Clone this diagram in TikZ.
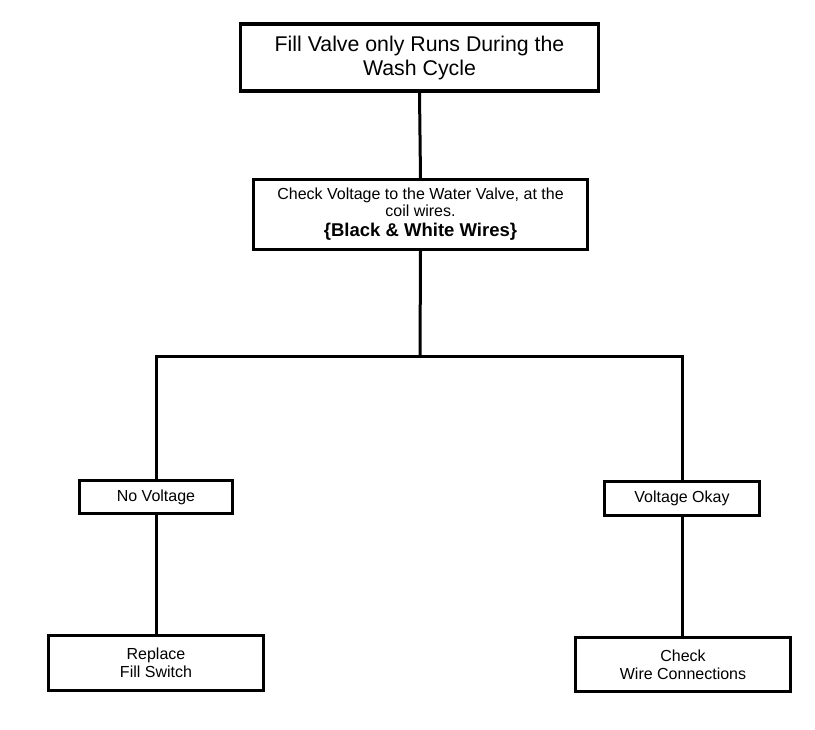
\documentclass[tikz,border=0pt]{standalone}
\usepackage{fontspec}
\setmainfont{Liberation Sans}
\begin{document}
\begin{tikzpicture}[x=1pt,y=-1pt,
  box/.style={draw=black,line width=3pt,rectangle,inner sep=0pt,align=center,fill=white},
  small/.style={font=\fontsize{16}{18}\selectfont},
  conn/.style={draw=black,line width=3pt}]
\useasboundingbox[fill=white] (0,0) rectangle (815,730);
\node[box,line width=3.5pt,minimum width=358pt,minimum height=67pt,font=\fontsize{21.3}{24}\selectfont] (top) at (419.5,57.5)
  {Fill Valve only Runs During the\\Wash Cycle};
\node[box,minimum width=334pt,minimum height=70pt,font=\fontsize{16}{16.5}\selectfont] (chk) at (420.5,214.5)
  {Check Voltage to the Water Valve, at the\\coil wires.\\[4pt]{\fontsize{18.5}{20}\selectfont\bfseries\{Black \& White Wires\}}};
\node[box,small,minimum width=153pt,minimum height=33pt] (nov) at (156,497) {No Voltage};
\node[box,small,minimum width=215pt,minimum height=55pt] (rep) at (156,663) {Replace\\Fill Switch};
\node[box,small,minimum width=155pt,minimum height=34pt] (vok) at (682,498.5) {Voltage Okay};
\node[box,small,minimum width=215pt,minimum height=54pt] (wc) at (683,664.5) {Check\\Wire Connections};
\coordinate (j) at (420,357);
\draw[conn] (top.south) -- (chk.north);
\draw[conn] (chk.south) -- (j);
\draw[conn] (nov.north) |- (j) -| (vok.north);
\draw[conn] (nov.south) -- (rep.north);
\draw[conn] (vok.south) -- (vok.south |- wc.north);
\end{tikzpicture}
\end{document}
